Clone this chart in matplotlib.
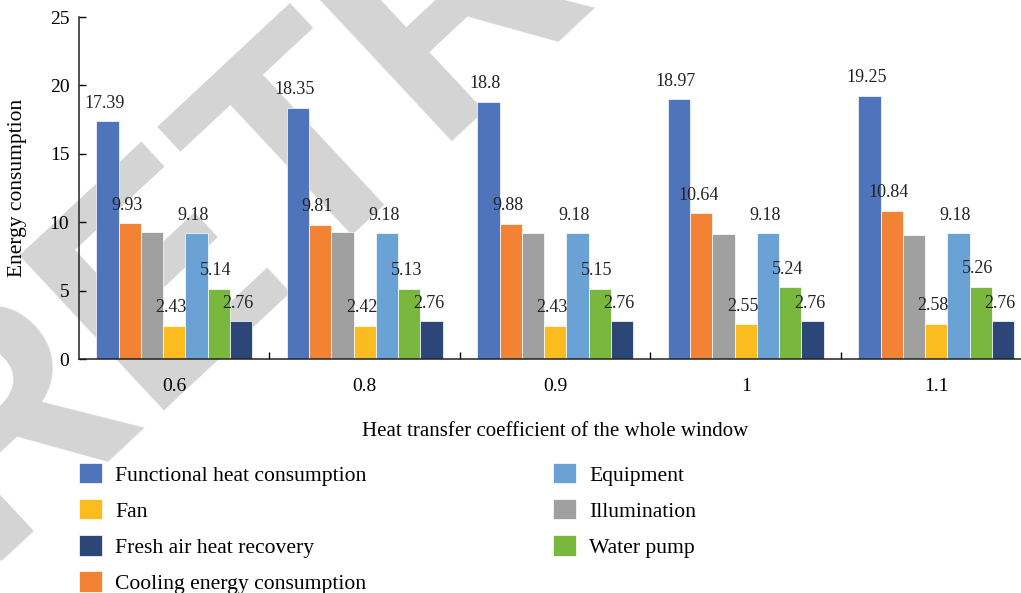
import numpy as np
import matplotlib
matplotlib.use("Agg")
import matplotlib.pyplot as plt
from matplotlib.ticker import FixedLocator


plt.rcParams["font.family"] = ["Liberation Serif", "DejaVu Serif"]

coefficients = ["0.6", "0.8", "0.9", "1", "1.1"]

functional_heat = [17.39, 18.35, 18.8, 18.97, 19.25]
cooling = [9.93, 9.81, 9.88, 10.64, 10.84]
illumination = [9.31, 9.26, 9.19, 9.14, 9.09]
fan = [2.43, 2.42, 2.43, 2.55, 2.58]
equipment = [9.18, 9.18, 9.18, 9.18, 9.18]
water_pump = [5.14, 5.13, 5.15, 5.24, 5.26]
fresh_air = [2.76, 2.76, 2.76, 2.76, 2.76]

# drawing order inside each group, left to right
series = [
    ("Functional heat consumption", functional_heat, "#4e75bc", True),
    ("Cooling energy consumption", cooling, "#f28334", True),
    ("Illumination", illumination, "#a0a0a0", False),
    ("Fan", fan, "#fbbc20", True),
    ("Equipment", equipment, "#6ba2d5", True),
    ("Water pump", water_pump, "#79b73f", True),
    ("Fresh air heat recovery", fresh_air, "#2b4677", True),
]
legend_order = [
    "Functional heat consumption", "Fan", "Fresh air heat recovery",
    "Cooling energy consumption", "Equipment", "Illumination", "Water pump",
]

W, H = 1021, 593
fig = plt.figure(figsize=(W / 100, H / 100), dpi=100)

# grey watermark behind the chart
fig.text(-19 / W, 1 - 562 / H, "RETRACTED", rotation=43, rotation_mode="anchor",
         ha="left", va="baseline", fontsize=222, fontweight="bold",
         family="Liberation Sans", color="#d4d4d4", zorder=-5)

ax = fig.add_axes([79 / W, 1 - 359 / H, (W - 79) / W, (359 - 17) / H])
ax.patch.set_alpha(0)

x = np.arange(len(coefficients))
width = 0.117
handles = {}
for i, (name, values, color, labelled) in enumerate(series):
    pos = x + (i - 3) * width
    bars = ax.bar(pos, values, width, color=color, edgecolor="white",
                  linewidth=0.5, label=name)
    handles[name] = bars
    if labelled:
        for px_, v in zip(pos, values):
            ax.annotate(f"{v:g}", (px_, v), xytext=(-2.2, 13),
                        textcoords="offset points", ha="center", va="center",
                        fontsize=13, color="#222222")

ax.set_xlim(-0.5, 4.445)
ax.set_ylim(0, 25)
ax.set_yticks([0, 5, 10, 15, 20, 25])
ax.set_xticks(x)
ax.set_xticklabels(coefficients)
ax.xaxis.set_minor_locator(FixedLocator([0.5, 1.5, 2.5, 3.5]))
ax.tick_params(axis="x", which="major", length=0, pad=14, labelsize=14)
ax.tick_params(axis="x", which="minor", direction="in", length=5, width=1)
ax.tick_params(axis="y", direction="in", length=5, width=1, pad=7, labelsize=14)

for side in ("top", "right"):
    ax.spines[side].set_visible(False)
for side in ("left", "bottom"):
    ax.spines[side].set_linewidth(1.1)
    ax.spines[side].set_color("#222222")

ax.set_ylabel("Energy consumption", fontsize=15.5, va="center")
ax.yaxis.set_label_coords((18 - 79) / (W - 79), 0.5)
ax.set_xlabel("Heat transfer coefficient of the whole window", fontsize=15, va="center")
ax.xaxis.set_label_coords((555 - 79) / (W - 79), (359 - 432) / (359 - 17))

fig.legend([handles[n] for n in legend_order], legend_order, ncol=2,
           loc="upper left", bbox_to_anchor=(79 / W, 1 - 463 / H),
           frameon=False, fontsize=15.6, borderpad=0, borderaxespad=0,
           handlelength=1.06, handleheight=1.06, handletextpad=0.6,
           labelspacing=0.63, columnspacing=8.63)

fig.savefig("out.png", dpi=100)
